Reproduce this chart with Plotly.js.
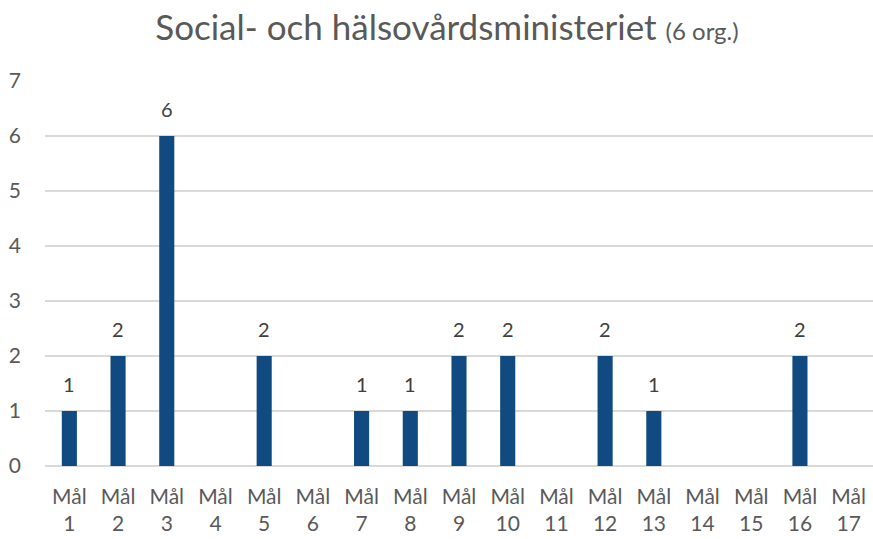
<!DOCTYPE html>
<html>
<head>
<meta charset="utf-8">
<script src="https://cdn.plot.ly/plotly-3.0.1.min.js"></script>
<style>
  html, body { margin: 0; padding: 0; background: #fff; }
  #chart { width: 873px; height: 539px; }
</style>
</head>
<body>
<div id="chart"></div>
<script>
    // Mål 1..17, antal organisationer
    var goals = ['1', '2', '3', '4', '5', '6', '7', '8', '9', '10', '11', '12', '13', '14', '15', '16', '17'];
    var counts = [1, 2, 6, 0, 2, 0, 1, 1, 2, 2, 0, 2, 1, 0, 0, 2, 0];
    var yTicks = [0, 1, 2, 3, 4, 5, 6, 7];

    var categories = goals.map(function (g) { return 'Mål<br>' + g; });

    var trace = {
        x: categories,
        y: counts,
        type: 'bar',
        marker: { color: '#104A80' },
        hoverinfo: 'none',
    };

    // value labels above the bars (none for zero)
    var annotations = [];
    counts.forEach(function (v, i) {
        if (v > 0) {
            annotations.push({
                x: categories[i],
                y: v,
                text: String(v),
                showarrow: false,
                yanchor: 'bottom',
                yshift: 13,
                font: { family: 'Lato, sans-serif', size: 20, color: '#404040' },
            });
        }
    });

    var layout = {
        width: 873,
        height: 539,
        paper_bgcolor: '#fff',
        plot_bgcolor: '#fff',
        showlegend: false,
        bargap: 0.69,
        margin: { l: 45, r: 0, t: 81, b: 73 },
        font: { family: 'Lato, sans-serif', color: '#595959' },
        annotations: annotations,
        title: {
            text: 'Social- och hälsovårdsministeriet <span style="font-size:24px">(6 org.)</span>',
            font: { family: 'Lato, sans-serif', size: 35, color: '#595959' },
            x: 0.512,
            xanchor: 'center',
            y: 0.948,
            yanchor: 'middle',
        },
        xaxis: {
            tickfont: { size: 21, color: '#595959' },
            showline: false,
            ticks: '',
            ticklabelstandoff: 16,
            fixedrange: true,
        },
        yaxis: {
            range: [0, 7],
            tickvals: yTicks,
            tickfont: { size: 21, color: '#595959' },
            showgrid: true,
            gridcolor: '#D9D9D9',
            gridwidth: 1.3,
            zeroline: true,
            zerolinecolor: '#D9D9D9',
            zerolinewidth: 1.3,
            ticks: '',
            ticklabelstandoff: 23,
            fixedrange: true,
        },
    };

    Plotly.newPlot(document.getElementById('chart'), [trace], layout, { displayModeBar: false, staticPlot: true });
</script>
</body>
</html>
